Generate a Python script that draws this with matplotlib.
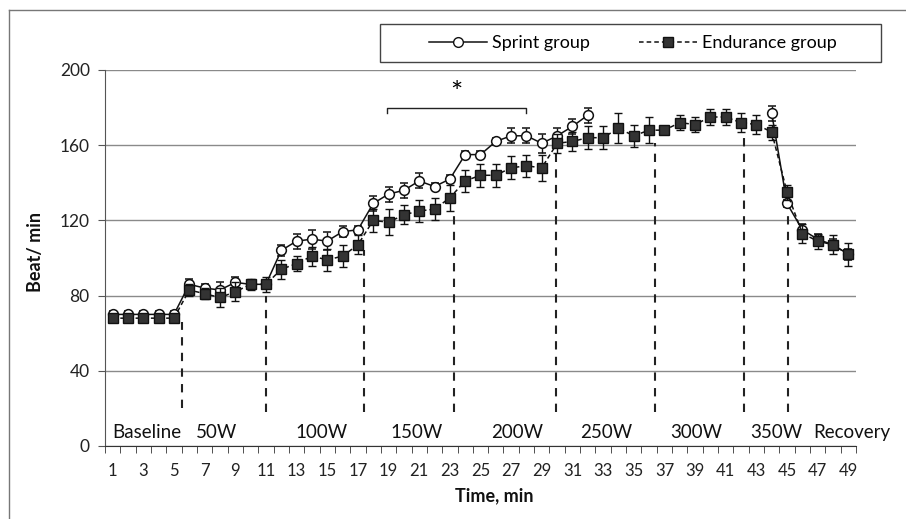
import numpy as np
import matplotlib
matplotlib.use('Agg')
import matplotlib.pyplot as plt
from matplotlib.lines import Line2D
from matplotlib.patches import Rectangle

plt.rcParams['font.family'] = ['Lato', 'DejaVu Sans']

nan = np.nan
minutes = np.arange(1, 50)

# heart rate, sprint group (no data 33-43)
sprint = [70, 70, 70, 70, 70, 86, 84, 83, 87, 86,
          86, 104, 109, 110, 109, 114, 115, 129, 134, 136,
          141, 138, 142, 155, 155, 162, 165, 165, 161, 165,
          170, 176] + [nan] * 11 + [177, 129, 115, 110, 107, 102]
sprint_err = [2, 2, 2, 2, 2, 3, 2, 4, 3, 2,
              2, 3, 4, 5, 5, 3, 2, 4, 4, 4,
              4, 2, 2, 2, 2, 2, 4, 4, 5, 4,
              4, 4] + [nan] * 11 + [4, 2, 3, 3, 3, 3]

# heart rate, endurance group
endurance = [68, 68, 68, 68, 68, 83, 81, 79, 82, 86,
             86, 94, 97, 101, 99, 101, 107, 120, 119, 123,
             125, 126, 132, 141, 144, 144, 148, 149, 148, 161,
             162, 164, 164, 169, 165, 168, 168, 172, 171, 175,
             175, 172, 171, 167, 135, 113, 109, 107, 102]
endurance_err = [2, 2, 2, 2, 2, 3, 3, 5, 5, 3,
                 4, 5, 4, 5, 6, 6, 5, 6, 7, 5,
                 6, 6, 7, 6, 6, 6, 6, 6, 7, 5,
                 5, 6, 6, 8, 6, 7, 2, 4, 4, 4,
                 4, 5, 5, 4, 4, 5, 4, 5, 6]

# workload stages
phase_names = ['Baseline', '50W', '100W', '150W', '200W', '250W', '300W', '350W', 'Recovery']
phase_x = [3.2, 7.8, 14.6, 20.8, 27.4, 33.2, 39.1, 44.3, 49.2]
divider_x = [5.5, 11, 17.4, 23.3, 29.9, 36.4, 42.2, 45.05]
divider_top = [66, 80, 104, 126, 157, 161, 165, 123]
divider_bottom = [20, 18, 18, 18, 18, 18, 18, 18]

# significance bracket
sig_start, sig_end, sig_level = 18.9, 28, 180

fig = plt.figure(figsize=(9.06, 5.19), dpi=100)
ax = fig.add_axes([105/906., 1-446/519., (856-105)/906., (446-70)/519.])

ax.set_xlim(0.5, 49.5)
ax.set_ylim(0, 200)

ax.yaxis.grid(True, color='#8a8a8a', lw=1)
ax.set_axisbelow(True)

for i in range(len(divider_x)):
    ax.plot([divider_x[i], divider_x[i]], [divider_bottom[i], divider_top[i]],
            color='#222222', lw=1.5, ls=(0, (4, 3.5)), zorder=2)

ax.errorbar(minutes, sprint, yerr=sprint_err, color='#111111', lw=1.1,
            marker='o', ms=7, mfc='white', mec='#111111', mew=1.1,
            ecolor='#111111', elinewidth=1, capsize=3, capthick=1, zorder=3)
ax.errorbar(minutes, endurance, yerr=endurance_err, color='#111111', lw=1.1,
            ls=(0, (3, 2)), marker='s', ms=7, mfc='#333333', mec='#111111',
            mew=1, ecolor='#111111', elinewidth=1, capsize=3, capthick=1, zorder=4)

for i in range(len(phase_names)):
    ax.text(phase_x[i], 7, phase_names[i], ha='center', va='center', fontsize=13.5,
            color='#111111', clip_on=False)

ax.plot([sig_start, sig_start, sig_end, sig_end],
        [sig_level - 3, sig_level, sig_level, sig_level - 3], color='#222222', lw=1)
ax.text((sig_start + sig_end) / 2., 187, '*', ha='center', va='center', fontsize=21)

# axes look
for s in ['top', 'right']:
    ax.spines[s].set_visible(False)
ax.spines['left'].set_color('#555555')
ax.spines['bottom'].set_color('#333333')
ax.set_yticks(np.arange(0, 201, 40))
ax.tick_params(axis='y', length=5, color='#555555', pad=6, labelsize=12.5, labelcolor='#222222')
ax.set_xticks(minutes[::2])
ax.set_xticks(np.arange(0.5, 50, 1), minor=True)
ax.tick_params(axis='x', which='major', length=0, pad=12, labelsize=12, labelcolor='#222222')
ax.tick_params(axis='x', which='minor', length=5, color='#333333')

fig.text(35/906., 1-252/519., 'Beat/ min', rotation=90, ha='center', va='center',
         fontsize=13, fontweight='bold', color='#111111')
fig.text(494/906., 1-496/519., 'Time, min', ha='center', va='center',
         fontsize=13, fontweight='bold', color='#111111')

# legend with its own box
fig.add_artist(Rectangle((380/906., 1-62/519.), 501/906., 38/519., transform=fig.transFigure,
                         fill=False, ec='#444444', lw=1))
h1 = Line2D([], [], color='#111111', lw=1.1, marker='o', ms=7, mfc='white', mec='#111111')
h2 = Line2D([], [], color='#111111', lw=1.1, ls=(0, (3, 2)), marker='s', ms=7,
            mfc='#333333', mec='#111111')
fig.legend([h1, h2], ['Sprint group', 'Endurance group'], loc='center',
           bbox_to_anchor=(633/906., 1-43/519.), ncol=2, frameon=False,
           handlelength=3.2, columnspacing=2.7, handletextpad=0.3, fontsize=13)

# outer frame of the picture
fig.add_artist(Line2D([8.5/906., 8.5/906.], [0, 1-10/519.], transform=fig.transFigure,
                      color='#777777', lw=1))
fig.add_artist(Line2D([8.5/906., 1], [1-10/519., 1-10/519.], transform=fig.transFigure,
                      color='#777777', lw=1))

plt.savefig('out.png', dpi=100)
